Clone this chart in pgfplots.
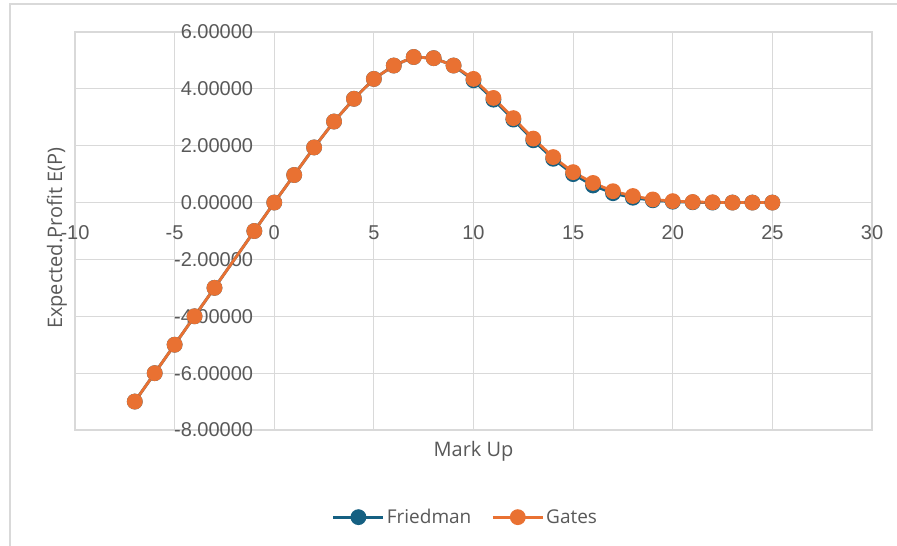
\documentclass[border=0pt]{standalone}
\usepackage{fontspec}
\setmainfont{Liberation Sans}
\newfontfamily\labfont{Open Sans}
\usepackage{pgfplots}
\pgfplotsset{compat=1.18}
\definecolor{friedman}{HTML}{156082}
\definecolor{gates}{HTML}{E97132}
\definecolor{gridc}{HTML}{D9D9D9}
\definecolor{txt}{HTML}{595959}
\begin{document}
\begin{tikzpicture}
\path[use as bounding box, fill=white] (-75pt,-116pt) rectangle (822pt,430pt);
\draw[gridc, line width=1.2pt] (-65pt,-116pt) -- (-65pt,426pt) -- (822pt,426pt);
\begin{axis}[
  at={(0pt,0pt)}, anchor=south west,
  scale only axis, width=797pt, height=398pt,
  xmin=-10, xmax=30, ymin=-8, ymax=6,
  axis line style={gridc, line width=1.2pt},
  xtick={-10,-5,...,30}, ytick={-8,-6,...,6},
  major tick length=0pt,
  grid=major,
  major grid style={gridc, line width=1.2pt},
  /pgf/number format/assume math mode=true,
  ticklabel style={font=\fontsize{20}{24}\selectfont, text=txt},
  yticklabel style={anchor=east, inner sep=0pt, xshift=178.25pt,
    /pgf/number format/.cd, fixed, fixed zerofill, precision=5},
  xticklabel style={anchor=north, inner sep=0pt, yshift=204.4pt},
  xlabel={Mark Up},
  ylabel={Expected.Profit E(P)},
  every axis x label/.style={at={(axis description cs:0.5,0)}, anchor=north, yshift=-8pt, font=\labfont\fontsize{20}{24}\selectfont, text=txt},
  every axis y label/.style={at={(axis description cs:-0.0226,0.482)}, anchor=center, rotate=90, font=\labfont\fontsize{20}{24}\selectfont, text=txt},
  legend style={at={(axis description cs:0.49,-0.219)}, anchor=center, draw=none, fill=none,
    font=\labfont\fontsize{19}{23}\selectfont, text=txt, legend columns=2,
    /tikz/every even column/.append style={column sep=18pt}},
  legend image code/.code={\draw[#1, mark repeat=2, mark phase=2] plot coordinates {(0pt,0pt) (25pt,0pt) (50pt,0pt)};},
  clip=false,
]
\addplot[friedman, line width=2.8pt, mark=*, mark size=6.5pt, mark options={solid, fill=friedman, draw=friedman}] coordinates {
(-7,-7) (-6,-6) (-5,-5) (-4,-4) (-3,-3) (-1,-1) (0,0) (1,0.97) (2,1.94) (3,2.85) (4,3.65) (5,4.35) (6,4.82) (7,5.12) (8,5.08) (9,4.82) (10,4.30) (11,3.62) (12,2.92) (13,2.19) (14,1.54) (15,1.00) (16,0.60) (17,0.33) (18,0.17) (19,0.08) (20,0.03) (21,0.01) (22,0.00) (23,0.00) (24,0.00) (25,0.00)
};
\addlegendentry{Friedman}
\addplot[gates, line width=2.8pt, mark=*, mark size=6.5pt, mark options={solid, fill=gates, draw=gates}] coordinates {
(-7,-7) (-6,-6) (-5,-5) (-4,-4) (-3,-3) (-1,-1) (0,0) (1,0.97) (2,1.94) (3,2.85) (4,3.65) (5,4.35) (6,4.82) (7,5.12) (8,5.08) (9,4.82) (10,4.35) (11,3.68) (12,2.97) (13,2.25) (14,1.60) (15,1.07) (16,0.69) (17,0.40) (18,0.23) (19,0.11) (20,0.05) (21,0.02) (22,0.01) (23,0.00) (24,0.00) (25,0.00)
};
\addlegendentry{Gates}
\end{axis}
\end{tikzpicture}
\end{document}
